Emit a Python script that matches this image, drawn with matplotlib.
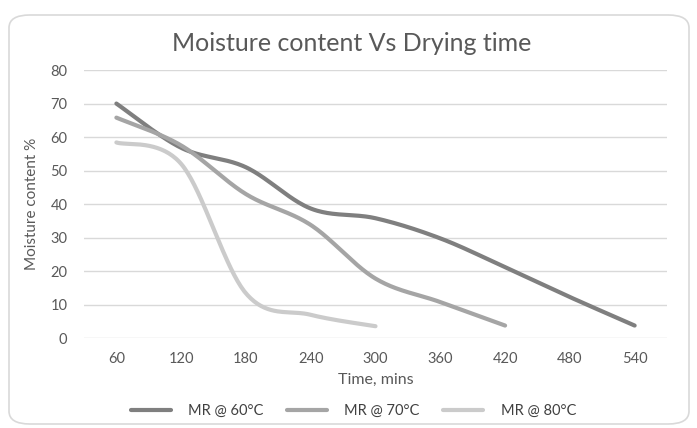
import numpy as np
import matplotlib.pyplot as plt
from matplotlib.patches import FancyBboxPatch

# drying data
times = [60, 120, 180, 240, 300, 360, 420, 480, 540]
mr_60 = [70, 56.8, 51, 38.7, 35.8, 29.8, 21.2, 12.3, 3.8]
mr_70 = [65.8, 57.5, 43, 33.8, 17.8, 10.8, 3.8]
mr_80 = [58.4, 52, 13.4, 7, 3.6]
labels = ['MR @ 60°C', 'MR @ 70°C', 'MR @ 80°C']
colors = ['#7f7f7f', '#a5a5a5', '#cbcbcb']


def smooth(xs, ys, n=40):
    # catmull-rom style bezier, like excel "smoothed line"
    p = np.column_stack([xs, ys]).astype(float)
    p = np.vstack([p[0], p, p[-1]])
    out = []
    t = np.linspace(0, 1, n)[:, None]
    for i in range(1, len(p) - 2):
        p0, p3 = p[i], p[i + 1]
        p1 = p0 + (p[i + 1] - p[i - 1]) / 6
        p2 = p3 - (p[i + 2] - p[i]) / 6
        seg = (1 - t)**3 * p0 + 3 * (1 - t)**2 * t * p1 + 3 * (1 - t) * t**2 * p2 + t**3 * p3
        out.append(seg if i == 1 else seg[1:])
    out = np.vstack(out)
    return out[:, 0], out[:, 1]


plt.rcParams['font.family'] = ['Lato', 'DejaVu Sans']
txt = '#595959'

fig = plt.figure(figsize=(6.97, 4.28), dpi=100)
ax = fig.add_axes([0.1205, 0.2096, 0.8365, 0.6268])

# chart border
fig.patches.append(FancyBboxPatch((9 / 697, 4 / 428), 680 / 697, 409 / 428,
                                  boxstyle='round,pad=0,rounding_size=0.03',
                                  transform=fig.transFigure, fc='none',
                                  ec='#d9d9d9', lw=1.2))

for series, lab, col in zip([mr_60, mr_70, mr_80], labels, colors):
    idx = np.arange(len(series))
    sx, sy = smooth(idx, series)
    ax.plot(sx, sy, color=col, lw=3, label=lab, solid_capstyle='round')

ax.set_xlim(-0.5, len(times) - 0.5)
ax.set_ylim(0, 80)
ax.set_yticks(range(0, 81, 10))
ax.set_xticks(range(len(times)))
ax.set_xticklabels([str(t) for t in times])
ax.grid(axis='y', color='#d9d9d9', lw=1)
ax.set_axisbelow(True)
for s in ax.spines.values():
    s.set_visible(False)
ax.tick_params(length=0, labelsize=10.5, colors=txt)
ax.tick_params(axis='y', pad=12)
ax.tick_params(axis='x', pad=10)

ax.set_xlabel('Time, mins', fontsize=11.5, color=txt, labelpad=5)
ax.set_ylabel('Moisture content %', fontsize=11, color=txt, labelpad=8)
fig.text(0.504, 0.898, 'Moisture content Vs Drying time', ha='center', va='center',
         fontsize=18, color=txt)

leg = ax.legend(loc='center', bbox_to_anchor=(0.462, -0.271), ncol=3, frameon=False,
                fontsize=10.5, handlelength=2.75, columnspacing=1.6, handletextpad=1.2)
for t in leg.get_texts():
    t.set_color('#404040')

fig.savefig('out.png', dpi=100)
